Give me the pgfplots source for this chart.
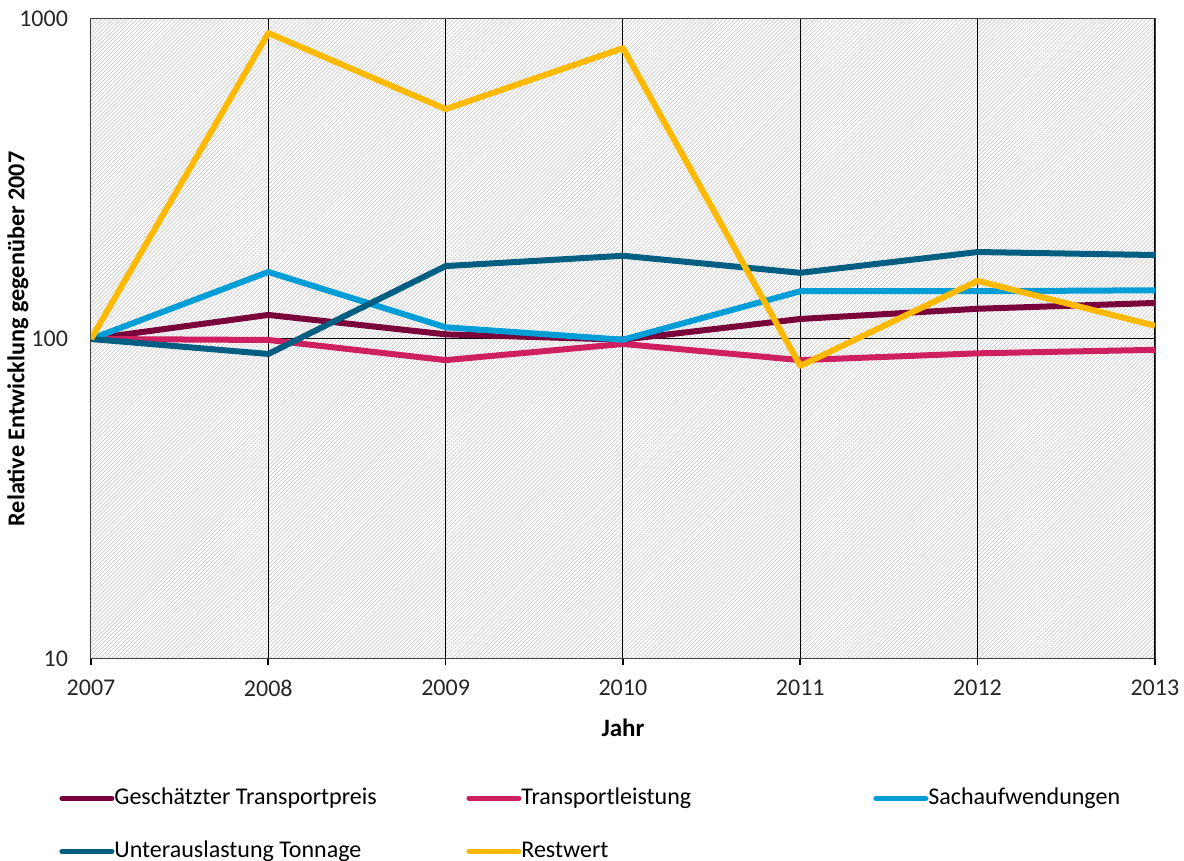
\documentclass[border=0pt]{standalone}
\usepackage{fontspec}
\setmainfont{Carlito}
\usepackage{pgfplots}
\pgfplotsset{compat=1.18}
\usetikzlibrary{patterns.meta}
\definecolor{cMaroon}{RGB}{122,0,60}
\definecolor{cPink}{RGB}{206,32,96}
\definecolor{cLight}{RGB}{0,157,214}
\definecolor{cTeal}{RGB}{0,94,131}
\definecolor{cYellow}{RGB}{255,185,0}
\begin{document}
\begin{tikzpicture}
\path[use as bounding box] (-45.5pt,-101pt) rectangle (546.5pt,329.5pt);
\begin{axis}[
  at={(0,0)}, anchor=south west,
  scale only axis, width=532pt, height=320pt,
  ymode=log, log basis y=10,
  xmin=2007, xmax=2013, ymin=10, ymax=1000,
  xtick={2007,...,2013},
  xticklabels={2007,2008,2009,2010,2011,2012,2013},
  ytick={10,100,1000}, yticklabels={10,100,1000},
  /pgf/number format/assume math mode=true,
  ticklabel style={font=\fontsize{12}{14}\selectfont, text=black!85},
  xtick align=outside, major tick length=3pt, xtick pos=lower,
  ytick style={draw=none},
  xtick style={black, line width=0.8pt},
  yticklabel style={xshift=-8pt},
  xticklabel style={yshift=-4pt},
  grid=major, major grid style={black, line width=0.5pt},
  axis line style={black!75, line width=0.5pt},
  axis background/.style={pattern={Lines[angle=45,distance=1.4pt,line width=0.35pt]}, pattern color=black!22},
  xlabel={\textbf{Jahr}},
  ylabel={\textbf{Relative Entwicklung gegenüber 2007}},
  xlabel style={font=\fontsize{12.5}{14}\selectfont, yshift=-4.5pt},
  every axis y label/.style={at={(rel axis cs:0,0.5)}, rotate=90, anchor=center, yshift=36.5pt, font=\fontsize{12.1}{14}\selectfont},
  legend columns=3,
  legend image code/.code={\draw[#1,line cap=round,line width=2.5pt] (0pt,0pt) -- (25pt,0pt);},
  legend style={at={(rel axis cs:0,0)}, anchor=north west, xshift=-16pt, yshift=-64pt,
    draw=none, fill=none, inner sep=0pt, row sep=15.5pt, column sep=0pt,
    font=\fontsize{12}{14}\selectfont,
    nodes={inner sep=0pt, text height=8.5pt, text depth=2.5pt}},
  every axis plot/.append style={line width=3pt, line join=round},
  clip=true,
]
\addplot[cMaroon] coordinates {(2007,100) (2008,118.9) (2009,103.4) (2010,99.5) (2011,115.5) (2012,124.3) (2013,129.6)};
\addlegendentry{\makebox[176pt][l]{Geschätzter Transportpreis}}
\addplot[cPink] coordinates {(2007,100) (2008,99.3) (2009,85.9) (2010,96.5) (2011,85.9) (2012,90.2) (2013,92.5)};
\addlegendentry{\makebox[176pt][l]{Transportleistung}}
\addplot[cLight] coordinates {(2007,100) (2008,162) (2009,108.8) (2010,99.5) (2011,141) (2012,141) (2013,142)};
\addlegendentry{\makebox[176pt][l]{Sachaufwendungen}}
\addplot[cTeal] coordinates {(2007,100) (2008,89.8) (2009,169) (2010,182) (2011,161) (2012,187) (2013,183)};
\addlegendentry{\makebox[176pt][l]{Unterauslastung Tonnage}}
\addplot[cYellow] coordinates {(2007,100) (2008,904) (2009,523) (2010,811) (2011,82.4) (2012,152) (2013,110)};
\addlegendentry{\makebox[176pt][l]{Restwert}}
\end{axis}
\end{tikzpicture}
\end{document}
